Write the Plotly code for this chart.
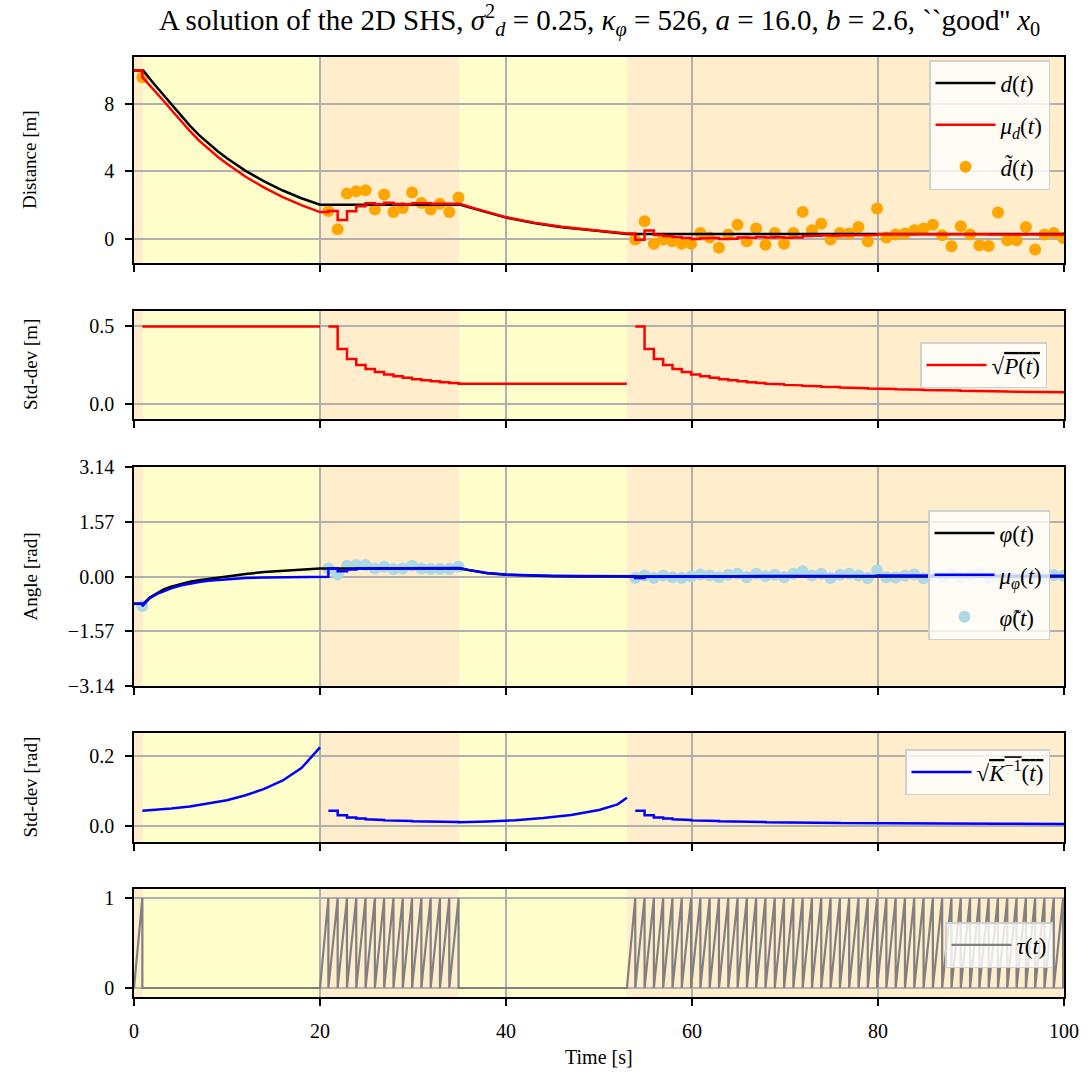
import plotly.graph_objects as go

W, H = 1089, 1081
FONT = "Liberation Serif"

# ---------------- data ----------------
# mode switching instants and shading of each interval
span_edges = [0, 1.0, 20, 35, 53, 100]
span_fill = ["#FFEDCC", "#FFFFCC", "#FFEDCC", "#FFFFCC", "#FFEDCC"]

# measurement instants [s]
t_meas_1 = [0.9]
t_meas_2 = [20.9 + k for k in range(15)]
t_meas_3 = [53.9 + k for k in range(47)]

# distance: true trajectory
d_t = [0, 1, 2, 3, 4, 5, 6, 7, 8, 9, 10, 12, 14, 16, 18, 20,
       35, 37, 40, 43, 46, 50, 53, 100]
d_val = [10, 10, 9.3, 8.65, 8.0, 7.32, 6.72, 6.15, 5.65, 5.2, 4.78, 4.03, 3.4,
         2.86, 2.4, 2.02, 2.02, 1.7, 1.25, 0.93, 0.68, 0.45, 0.27, 0.27]

# distance measurements
d_meas_1 = [9.6]
d_meas_2 = [1.64, 0.55, 2.68, 2.82, 2.88, 1.73, 2.62, 1.58, 1.82, 2.74, 2.12,
            1.73, 2.08, 1.58, 2.44]
d_meas_3 = [-0.06, 1.03, -0.3, -0.06, -0.16, -0.3, -0.3, 0.34, 0.06, -0.54,
            0.24, 0.83, -0.16, 0.6, -0.36, 0.34, -0.3, 0.34, 1.59, 0.5, 0.89,
            -0.06, 0.34, 0.3, 0.69, -0.16, 1.79, 0.06, 0.24, 0.3, 0.5, 0.6,
            0.83, 0.2, -0.46, 0.73, 0.24, -0.4, -0.44, 1.55, -0.1, -0.1, 0.69,
            -0.65, 0.24, 0.34, 0.04]

# distance estimate: prior, prediction arcs and updates
mu_d_init = 10.0
mu_d_flow1_t = [0.9, 2, 3, 4, 5, 6, 7, 8, 9, 10, 12, 14, 16, 18, 20]
mu_d_flow1 = [9.6, 8.95, 8.3, 7.66, 7.0, 6.4, 5.83, 5.33, 4.87, 4.45, 3.68,
              3.03, 2.47, 1.99, 1.58]
mu_d_upd2 = [1.64, 1.10, 1.62, 1.92, 2.11, 2.05, 2.13, 2.06, 2.04, 2.10, 2.11,
             2.08, 2.08, 2.04, 2.07]
mu_d_flow2_t = [35, 37, 40, 43, 46, 50, 53]
mu_d_flow2 = [2.07, 1.74, 1.28, 0.95, 0.7, 0.47, 0.3]
mu_d_upd3 = [-0.06, 0.49, 0.22, 0.15, 0.09, 0.03, -0.02, 0.02, 0.03, -0.03,
             -0.01, 0.07, 0.05, 0.09, 0.06, 0.08, 0.05, 0.07, 0.15, 0.17, 0.2,
             0.19, 0.2, 0.2, 0.22, 0.21, 0.26, 0.26, 0.26, 0.26, 0.27, 0.28,
             0.29, 0.29, 0.27, 0.28, 0.28, 0.26, 0.24, 0.28, 0.27, 0.26, 0.27,
             0.25, 0.25, 0.25, 0.25]

# distance std-dev sqrt(P)
sp_flow1 = 0.5
sp_upd2 = [0.5, 0.354, 0.289, 0.25, 0.224, 0.204, 0.189, 0.177, 0.167, 0.158,
           0.151, 0.144, 0.139, 0.134, 0.129]
sp_upd3 = [0.5, 0.354, 0.289, 0.25, 0.224, 0.204, 0.189, 0.177, 0.167, 0.158,
           0.151, 0.144, 0.139, 0.134, 0.129, 0.125, 0.121, 0.118, 0.115,
           0.112, 0.109, 0.107, 0.104, 0.102, 0.1, 0.098, 0.096, 0.094, 0.093,
           0.091, 0.09, 0.088, 0.087, 0.086, 0.085, 0.083, 0.082, 0.081, 0.08,
           0.079, 0.078, 0.077, 0.076, 0.075, 0.075, 0.074, 0.073]

# angle: true trajectory
phi_t = [0, 1, 1.7, 2.5, 3.2, 4, 5, 6, 7, 8, 10, 12, 14, 16, 18, 20,
         35, 36, 37, 38, 40, 42, 45, 48, 53, 100]
phi_val = [-0.785, -0.785, -0.6, -0.47, -0.37, -0.29, -0.21, -0.15, -0.11,
           -0.07, 0.0, 0.07, 0.13, 0.17, 0.2, 0.23, 0.23, 0.18, 0.13, 0.09,
           0.05, 0.03, 0.01, 0.0, 0.0, 0.0]

# angle measurements
phi_meas_1 = [-0.85]
phi_meas_2 = [0.23, 0.06, 0.31, 0.33, 0.33, 0.23, 0.28, 0.215, 0.23, 0.31,
              0.23, 0.215, 0.215, 0.215, 0.28]
phi_meas_3 = [-0.04, 0.03, -0.04, 0.03, -0.02, -0.04, 0.0, 0.06, 0.03, -0.02,
              0.05, 0.08, -0.02, 0.08, 0.01, 0.05, -0.02, 0.08, 0.15, 0.03,
              0.08, -0.04, 0.05, 0.08, 0.03, -0.04, 0.17, -0.02, -0.03, 0.02,
              0.06, -0.05, 0.04, 0.0, 0.07, -0.02, 0.03, 0.1, -0.04, 0.02,
              0.05, -0.03, 0.06, 0.01, -0.02, 0.04, 0.02]

# angle estimate
mu_phi_init = -0.785
mu_phi_flow1_t = [0.9, 1.7, 2.5, 3.2, 4, 5, 6, 7, 8, 10, 12, 14, 16, 18, 20]
mu_phi_flow1 = [-0.85, -0.62, -0.5, -0.42, -0.34, -0.26, -0.2, -0.16, -0.12,
                -0.07, -0.04, -0.03, -0.02, -0.01, -0.01]
mu_phi_upd2 = [0.23, 0.15, 0.2, 0.23, 0.25, 0.245, 0.25, 0.245, 0.243, 0.25,
               0.248, 0.245, 0.243, 0.241, 0.243]
mu_phi_flow2_t = [35, 36, 37, 38, 40, 42, 45, 48, 53]
mu_phi_flow2 = [0.243, 0.19, 0.14, 0.1, 0.055, 0.035, 0.02, 0.015, 0.01]
mu_phi_upd3 = [-0.04, -0.005, -0.017, -0.005, -0.008, -0.013, -0.011, -0.003,
               0.001, -0.001, 0.004, 0.01, 0.008, 0.013, 0.013, 0.015, 0.013,
               0.017, 0.024, 0.024, 0.027, 0.024, 0.025, 0.027, 0.027, 0.025,
               0.03, 0.028, 0.026, 0.026, 0.027, 0.025, 0.025, 0.025, 0.026,
               0.025, 0.025, 0.026, 0.024, 0.024, 0.024, 0.023, 0.024, 0.024,
               0.023, 0.023, 0.023]

# angle std-dev sqrt(K^-1)
sk_flow1_t = [0.9, 2, 4, 6, 8, 10, 12, 14, 16, 18, 20]
sk_flow1 = [0.044, 0.046, 0.05, 0.056, 0.064, 0.074, 0.088, 0.106, 0.13,
            0.165, 0.224]
sk_upd2 = [0.044, 0.031, 0.025, 0.022, 0.0195, 0.0178, 0.0165, 0.0154, 0.0145,
           0.0138, 0.0131, 0.0126, 0.0121, 0.0117, 0.0113]
sk_flow2_t = [35, 38, 41, 44, 47, 50, 52, 53]
sk_flow2 = [0.0113, 0.0135, 0.017, 0.023, 0.032, 0.046, 0.062, 0.081]
sk_upd3 = [0.044, 0.031, 0.025, 0.022, 0.0195, 0.0178, 0.0165, 0.0154, 0.0145,
           0.0138, 0.0131, 0.0126, 0.0121, 0.0117, 0.0113, 0.0109, 0.0106,
           0.0103, 0.01, 0.0098, 0.0095, 0.0093, 0.0091, 0.0089, 0.0087,
           0.0086, 0.0084, 0.0082, 0.0081, 0.008, 0.0078, 0.0077, 0.0076,
           0.0075, 0.0074, 0.0073, 0.0072, 0.0071, 0.007, 0.0069, 0.0068,
           0.0067, 0.0066, 0.0066, 0.0065, 0.0064, 0.0064]

# ---------------- polyline assembly ----------------
def add_steps(xs, ys, times, values, t_end):
    """Zero-order hold: each value holds from its instant until the next."""
    for i, (t, v) in enumerate(zip(times, values)):
        xs += [t, t]
        ys += [ys[-1], v]
        t_next = times[i + 1] if i + 1 < len(times) else t_end
        xs.append(t_next)
        ys.append(v)


# mu_d(t)
mx, my = [0, 0.9], [mu_d_init, mu_d_init]
mx += mu_d_flow1_t
my += mu_d_flow1
mx.append(t_meas_2[0]); my.append(mu_d_flow1[-1])
add_steps(mx, my, t_meas_2, mu_d_upd2, 35)
mx += mu_d_flow2_t; my += mu_d_flow2
mx.append(t_meas_3[0]); my.append(mu_d_flow2[-1])
add_steps(mx, my, t_meas_3, mu_d_upd3, 100)

# mu_phi(t)
ax_, ay_ = [0, 0.9], [mu_phi_init, mu_phi_init]
ax_ += mu_phi_flow1_t; ay_ += mu_phi_flow1
ax_.append(t_meas_2[0]); ay_.append(mu_phi_flow1[-1])
add_steps(ax_, ay_, t_meas_2, mu_phi_upd2, 35)
ax_ += mu_phi_flow2_t; ay_ += mu_phi_flow2
ax_.append(t_meas_3[0]); ay_.append(mu_phi_flow2[-1])
add_steps(ax_, ay_, t_meas_3, mu_phi_upd3, 100)

# sqrt(P(t)) : segments separated by gaps
px, py = [t_meas_1[0], 20], [sp_flow1, sp_flow1]
px.append(None); py.append(None)
px.append(t_meas_2[0]); py.append(sp_upd2[0])
add_steps(px, py, t_meas_2, sp_upd2, 53)
px.append(None); py.append(None)
px.append(t_meas_3[0]); py.append(sp_upd3[0])
add_steps(px, py, t_meas_3, sp_upd3, 100)

# sqrt(K^-1(t))
kx, ky = list(sk_flow1_t), list(sk_flow1)
kx.append(None); ky.append(None)
kx.append(t_meas_2[0]); ky.append(sk_upd2[0])
add_steps(kx, ky, t_meas_2, sk_upd2, 35)
kx += sk_flow2_t; ky += sk_flow2
kx.append(None); ky.append(None)
kx.append(t_meas_3[0]); ky.append(sk_upd3[0])
add_steps(kx, ky, t_meas_3, sk_upd3, 100)

# tau(t): timer ramps to 1 at each measurement, then resets to 0
tx, ty = [0], [0]
for block, t_stop in ((t_meas_1, 20), (t_meas_2, 53), (t_meas_3, 100)):
    for t in block:
        tx += [t, t]
        ty += [1, 0]
    tx.append(t_stop)
    ty.append(0 if t_stop != 100 else 0.1)

# ---------------- figure ----------------
panels = [(57, 263), (311, 419), (467, 686), (733, 842), (889, 997)]
x_dom = [134 / W, 1064 / W]

fig = go.Figure()

LW = 2.5
# panel 1
fig.add_trace(go.Scatter(x=t_meas_1 + t_meas_2 + t_meas_3,
                         y=d_meas_1 + d_meas_2 + d_meas_3, mode="markers",
                         marker=dict(color="orange", size=12),
                         name="<i>d̃</i>(<i>t</i>)", legend="legend",
                         legendgroup="a3", legendrank=3, xaxis="x", yaxis="y"))
fig.add_trace(go.Scatter(x=d_t, y=d_val, mode="lines",
                         line=dict(color="black", width=LW),
                         name="<i>d</i>(<i>t</i>)", legend="legend",
                         legendgroup="a1", legendrank=1, xaxis="x", yaxis="y"))
fig.add_trace(go.Scatter(x=mx, y=my, mode="lines",
                         line=dict(color="red", width=LW),
                         name="<i>μ<sub>d</sub></i>(<i>t</i>)", legend="legend",
                         legendgroup="a2", legendrank=2, xaxis="x", yaxis="y"))
# panel 2
fig.add_trace(go.Scatter(x=px, y=py, mode="lines", connectgaps=False,
                         line=dict(color="red", width=LW),
                         name="√<span style='text-decoration:overline'><i>P</i>(<i>t</i>)</span>",
                         legend="legend2", xaxis="x2", yaxis="y2"))
# panel 3
fig.add_trace(go.Scatter(x=t_meas_1 + t_meas_2 + t_meas_3,
                         y=phi_meas_1 + phi_meas_2 + phi_meas_3, mode="markers",
                         marker=dict(color="lightblue", size=12),
                         name="<i>φ̃</i>(<i>t</i>)", legend="legend3",
                         legendgroup="b3", legendrank=3, xaxis="x3", yaxis="y3"))
fig.add_trace(go.Scatter(x=phi_t, y=phi_val, mode="lines",
                         line=dict(color="black", width=LW),
                         name="<i>φ</i>(<i>t</i>)", legend="legend3",
                         legendgroup="b1", legendrank=1, xaxis="x3", yaxis="y3"))
fig.add_trace(go.Scatter(x=ax_, y=ay_, mode="lines",
                         line=dict(color="blue", width=LW),
                         name="<i>μ<sub>φ</sub></i>(<i>t</i>)", legend="legend3",
                         legendgroup="b2", legendrank=2, xaxis="x3", yaxis="y3"))
# panel 4
fig.add_trace(go.Scatter(x=kx, y=ky, mode="lines", connectgaps=False,
                         line=dict(color="blue", width=LW),
                         name="√<span style='text-decoration:overline'><i>K</i><sup>−1</sup>(<i>t</i>)</span>",
                         legend="legend4", xaxis="x4", yaxis="y4"))
# panel 5
fig.add_trace(go.Scatter(x=tx, y=ty, mode="lines",
                         line=dict(color="gray", width=2.2),
                         name="<i>τ</i>(<i>t</i>)", legend="legend5",
                         xaxis="x5", yaxis="y5"))

# background spans
shapes = []
for k in range(5):
    xr = "x" if k == 0 else f"x{k+1}"
    yr = "y domain" if k == 0 else f"y{k+1} domain"
    for (a, b), c in zip(zip(span_edges[:-1], span_edges[1:]), span_fill):
        shapes.append(dict(type="rect", xref=xr, yref=yr, x0=a, x1=b, y0=0, y1=1,
                           fillcolor=c, line=dict(width=0), layer="below"))

y_ranges = [[-1.45, 10.8], [-0.1, 0.6], [-3.1416, 3.1416], [-0.045, 0.265],
            [-0.1, 1.1]]
y_ticks = [([0, 4, 8], ["0", "4", "8"]),
           ([0, 0.5], ["0.0", "0.5"]),
           ([-3.14, -1.57, 0, 1.57, 3.14], ["−3.14", "−1.57", "0.00", "1.57", "3.14"]),
           ([0, 0.2], ["0.0", "0.2"]),
           ([0, 1], ["0", "1"])]

axis_common = dict(showline=True, linecolor="black", linewidth=1.7, mirror=True,
                   ticks="outside", ticklen=7, tickwidth=1.7, tickcolor="black",
                   showgrid=True, gridcolor="#b0b0b0", gridwidth=1.6,
                   zeroline=False, automargin=False,
                   tickfont=dict(family=FONT, size=20, color="black"))

layout = dict(width=W, height=H,
              margin=dict(l=0, r=0, t=0, b=0, pad=0, autoexpand=False),
              paper_bgcolor="white", plot_bgcolor="white", shapes=shapes,
              font=dict(family=FONT, color="black"))
for k, (top, bot) in enumerate(panels):
    sx = "" if k == 0 else str(k + 1)
    ydom = [1 - bot / H, 1 - top / H]
    layout["xaxis" + sx] = dict(axis_common, domain=x_dom, range=[0, 100],
                                tickvals=[0, 20, 40, 60, 80, 100],
                                showticklabels=(k == 4), anchor="y" + sx,
                                ticklabelstandoff=8)
    if k > 0:
        layout["xaxis" + sx]["matches"] = "x"
    layout["yaxis" + sx] = dict(axis_common, domain=ydom, range=y_ranges[k],
                                tickvals=y_ticks[k][0], ticktext=y_ticks[k][1],
                                anchor="x" + sx, ticklabelstandoff=7)

leg_common = dict(bgcolor="rgba(255,255,255,0.8)", bordercolor="#d0d0d0",
                  borderwidth=1.5, font=dict(family=FONT, size=23, color="black"),
                  xanchor="right", itemwidth=60, tracegroupgap=9)
layout["legend"] = dict(leg_common, x=1050 / W, y=1 - 60 / H, yanchor="top")
layout["legend2"] = dict(leg_common, x=1047 / W, y=1 - 365 / H, yanchor="middle")
layout["legend3"] = dict(leg_common, x=1050 / W, y=1 - 510 / H, yanchor="top")
layout["legend4"] = dict(leg_common, x=1050 / W, y=1 - 772 / H, yanchor="middle")
layout["legend5"] = dict(leg_common, x=1053 / W, y=1 - 945 / H, yanchor="middle")

annotations = [
    dict(text="A solution of the 2D SHS, <i>σ</i><sup>2</sup><sub><i>d</i></sub> = 0.25, "
              "<i>κ<sub>φ</sub></i> = 526, <i>a</i> = 16.0, <i>b</i> = 2.6, "
              "``good'' <i>x</i><sub>0</sub>",
         x=599 / W, y=1 - 21 / H, xref="paper", yref="paper", showarrow=False,
         xanchor="center", yanchor="middle", font=dict(family=FONT, size=29)),
    dict(text="Time [s]", x=599 / W, y=1 - 1057 / H, xref="paper", yref="paper",
         showarrow=False, xanchor="center", yanchor="middle",
         font=dict(family=FONT, size=20)),
]
for label, (top, bot) in zip(["Distance [m]", "Std-dev [m]", "Angle [rad]",
                              "Std-dev [rad]"], panels[:4]):
    annotations.append(dict(text=label, x=30 / W, y=1 - (top + bot) / 2 / H,
                            xref="paper", yref="paper", showarrow=False,
                            textangle=-90, xanchor="center", yanchor="middle",
                            font=dict(family=FONT, size=19)))
layout["annotations"] = annotations

fig.update_layout(**layout)
fig.write_html("out.html")
